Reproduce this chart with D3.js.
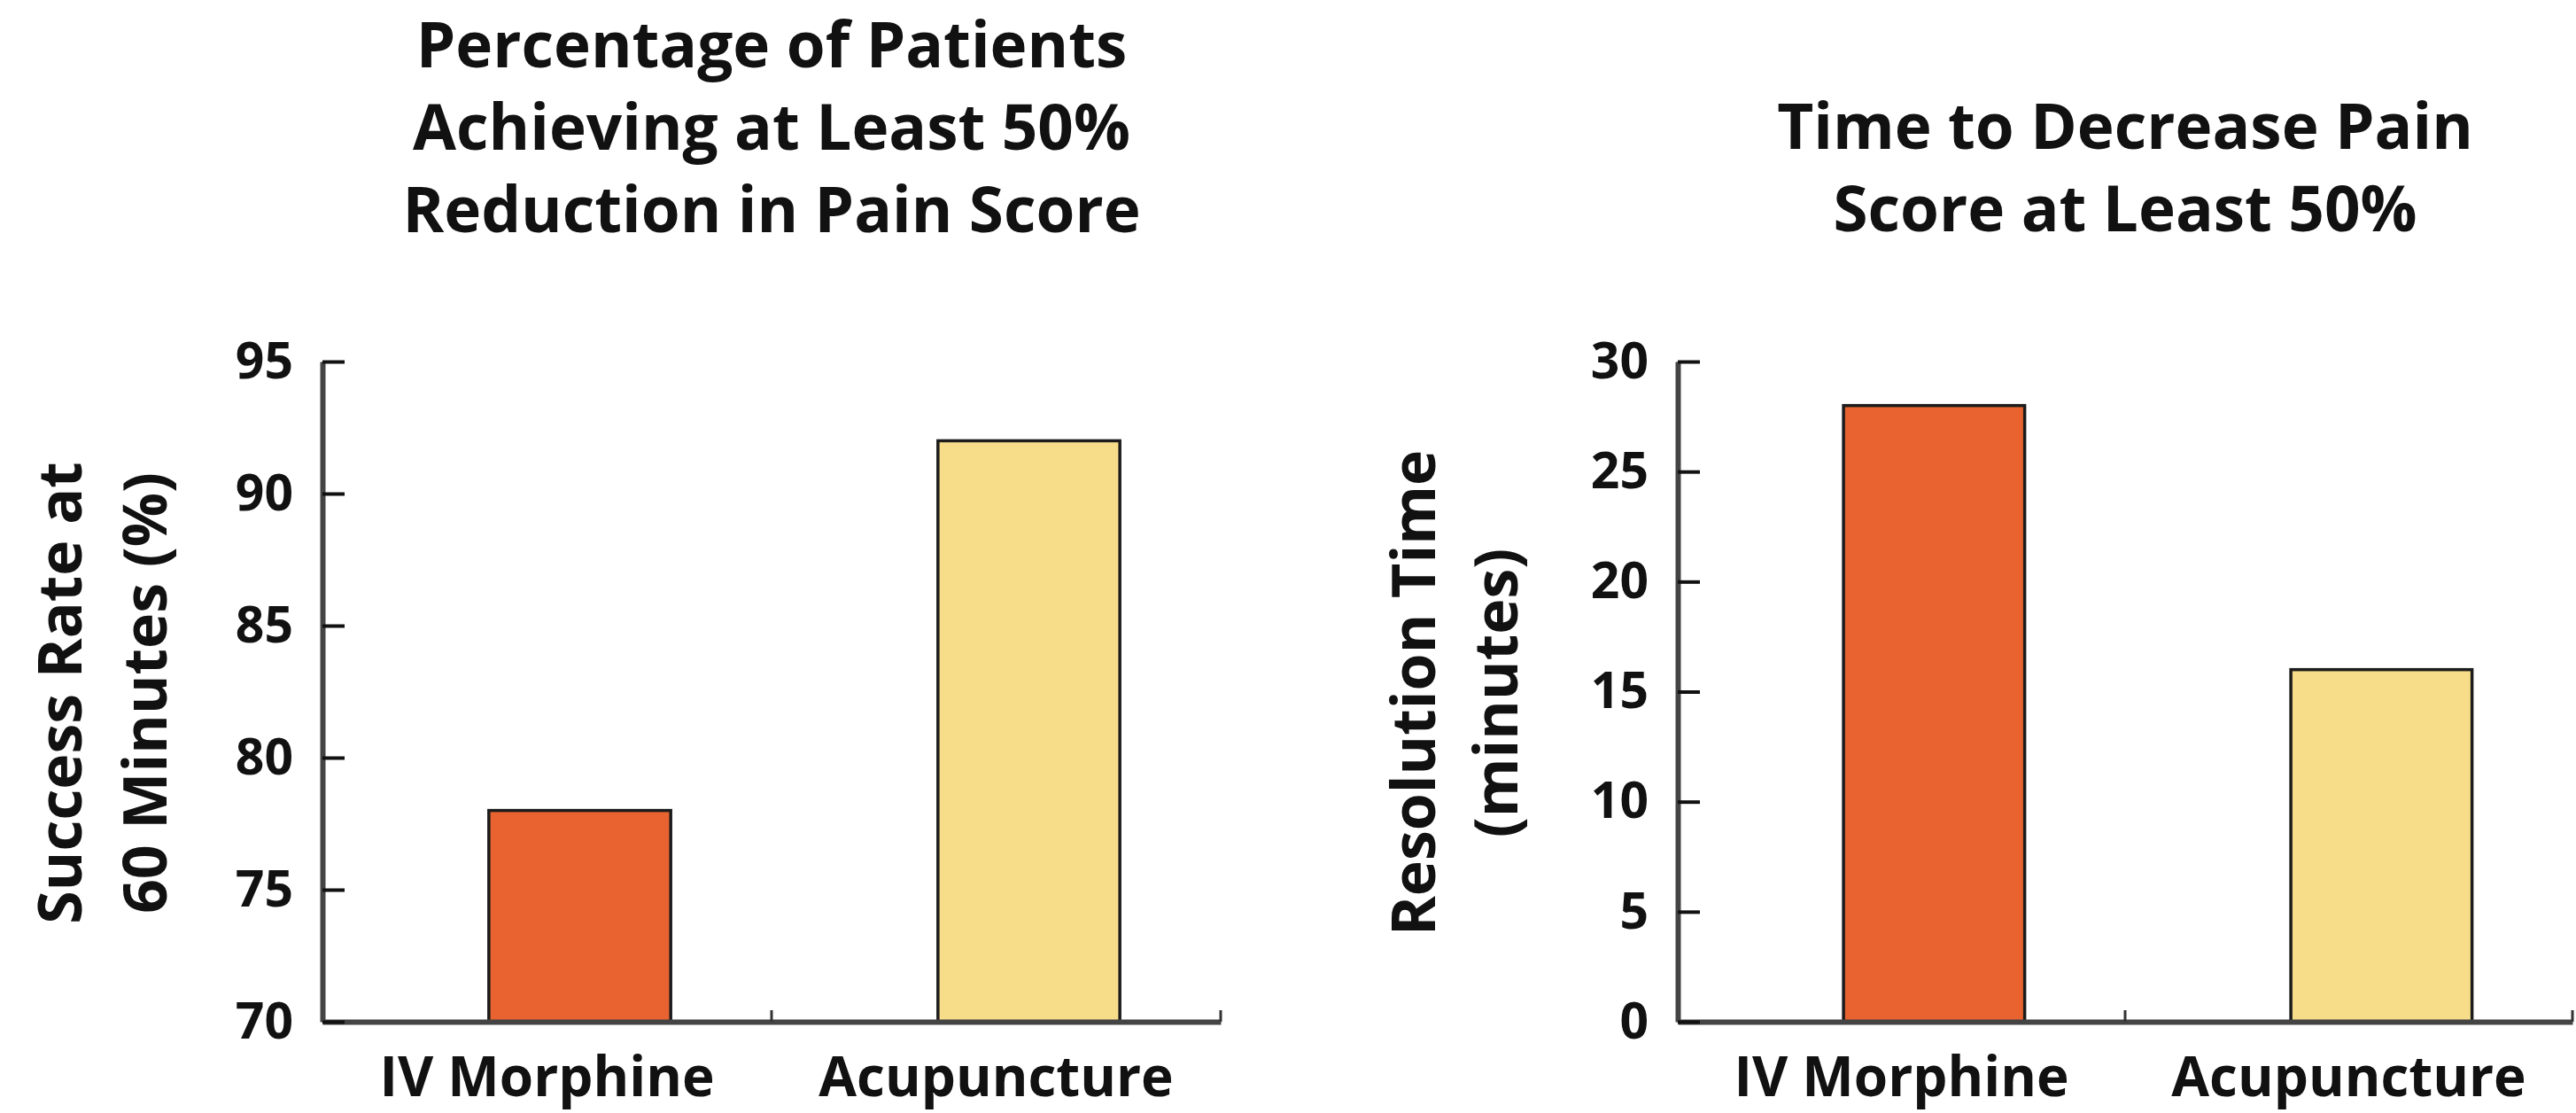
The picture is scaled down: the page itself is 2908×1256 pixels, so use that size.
<!DOCTYPE html>
<html>
<head>
<meta charset="utf-8">
<script src="https://cdn.jsdelivr.net/npm/d3@7"></script>
<style>
  body { margin: 0; background: #fff; }
  svg { display: block; }
  text { font-family: 'Open Sans', sans-serif; fill: #111; }
</style>
</head>
<body>
<svg id="chart"></svg>
<script>
// data
const categories = ['IV Morphine', 'Acupuncture']
const successRate = [78, 92]
const resolutionTime = [28, 16]
const successTicks = [70, 75, 80, 85, 90, 95]
const timeTicks = [0, 5, 10, 15, 20, 25, 30]
const barColors = ['#E8632F', '#F7DC89']

const leftTitle = ['Percentage of Patients', 'Achieving at Least 50%', 'Reduction in Pain Score']
const rightTitle = ['Time to Decrease Pain', 'Score at Least 50%']
const leftYLabel = ['Success Rate at', '60 Minutes (%)']
const rightYLabel = ['Resolution Time', '(minutes)']

const width = 2908
const height = 1256

const svg = d3.select('#chart')
    .attr('width', width)
    .attr('height', height)

const panels = [
    {
        values: successRate, domain: [70, 95], ticks: successTicks,
        title: leftTitle, titleY: 76, yLabel: leftYLabel,
        x0: 364, x1: 1378, labelX: [92, 188]
    },
    {
        values: resolutionTime, domain: [0, 30], ticks: timeTicks,
        title: rightTitle, titleY: 168, yLabel: rightYLabel,
        x0: 1894, x1: 2904, labelX: [1620, 1713]
    }
]

const plotTop = 408
const plotBottom = 1153

panels.forEach(p => {
    const g = svg.append('g')

    const x = d3.scaleBand()
        .domain(categories)
        .range([p.x0, p.x1])

    const y = d3.scaleLinear()
        .domain(p.domain)
        .range([plotBottom, plotTop])

    const bw = x.bandwidth()
    const barWidth = bw * 0.405
    const shift = bw * 0.073

    // bars
    g.append('g')
        .selectAll('rect')
        .data(categories)
        .enter().append('rect')
        .attr('x', d => x(d) + bw / 2 + shift - barWidth / 2)
        .attr('y', (d, i) => y(p.values[i]))
        .attr('width', barWidth)
        .attr('height', (d, i) => plotBottom - y(p.values[i]))
        .attr('fill', (d, i) => barColors[i])
        .attr('stroke', '#1c1c1c')
        .attr('stroke-width', 3.5)

    // x axis
    const xAxis = g.append('g')
        .attr('transform', `translate(0,${plotBottom})`)
        .call(d3.axisBottom(x).tickSize(0).tickSizeOuter(0).tickPadding(40))
    xAxis.select('.domain')
        .attr('stroke', '#444')
        .attr('stroke-width', 6)
    xAxis.selectAll('text')
        .attr('font-size', 62)
        .attr('font-weight', 700)
        .attr('font-family', 'Open Sans, sans-serif')
        .attr('fill', '#111')
        .attr('dy', '0.71em')

    // band boundary ticks
    g.append('g')
        .selectAll('line')
        .data(categories)
        .enter().append('line')
        .attr('x1', d => x(d) + bw)
        .attr('x2', d => x(d) + bw)
        .attr('y1', plotBottom)
        .attr('y2', plotBottom - 13)
        .attr('stroke', '#333')
        .attr('stroke-width', 3)

    // y axis
    const yAxis = g.append('g')
        .attr('transform', `translate(${p.x0},0)`)
        .call(d3.axisLeft(y)
            .tickValues(p.ticks)
            .tickSizeInner(-25)
            .tickSizeOuter(0)
            .tickPadding(33))
    yAxis.select('.domain')
        .attr('stroke', '#444')
        .attr('stroke-width', 6)
    yAxis.selectAll('.tick line')
        .attr('stroke', '#111')
        .attr('stroke-width', 4)
    yAxis.selectAll('text')
        .attr('font-size', 57)
        .attr('font-weight', 700)
        .attr('font-family', 'Open Sans, sans-serif')
        .attr('fill', '#111')

    // y label
    const cy = 782
    p.yLabel.forEach((line, i) => {
        g.append('text')
            .attr('transform', `translate(${p.labelX[i]},${cy}) rotate(-90)`)
            .attr('text-anchor', 'middle')
            .attr('font-size', 68)
            .attr('font-weight', 700)
            .text(line)
    })

    // title
    const cx = (p.x0 + p.x1) / 2
    p.title.forEach((line, i) => {
        g.append('text')
            .attr('x', cx)
            .attr('y', p.titleY + i * 93)
            .attr('text-anchor', 'middle')
            .attr('font-size', 71)
            .attr('font-weight', 700)
            .text(line)
    })
})
</script>
</body>
</html>
